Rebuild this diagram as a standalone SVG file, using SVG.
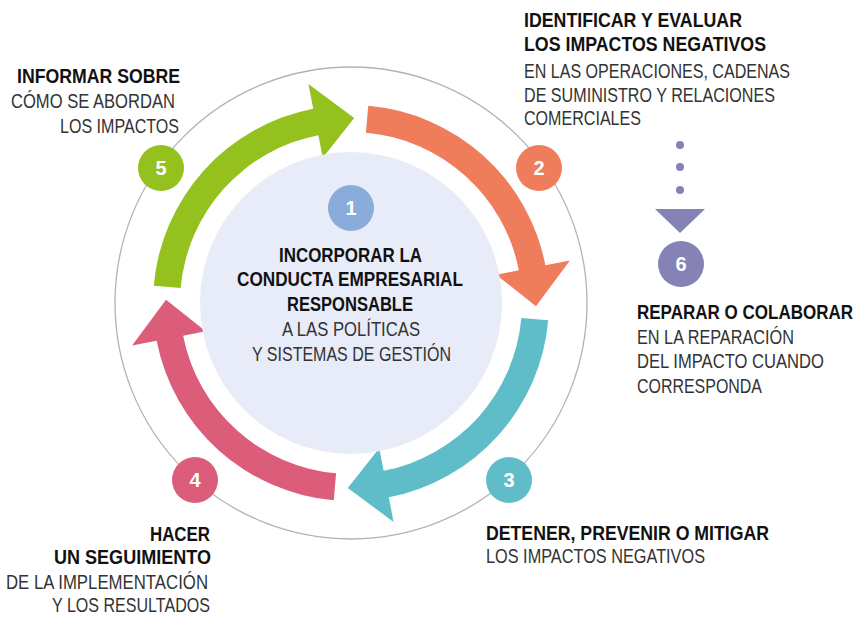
<svg xmlns="http://www.w3.org/2000/svg" width="859" height="617" viewBox="0 0 859 617">
  <style>
    .b { font-family: "Liberation Sans", Arial, sans-serif; font-weight: 700; font-size: 20px; fill: #111; }
    .r { font-family: "Liberation Sans", Arial, sans-serif; font-weight: 400; font-size: 20px; fill: #333; }
    .num { font-family: "Liberation Sans", Arial, sans-serif; font-weight: 700; font-size: 20px; fill: #fff; text-anchor: middle; }
    .end { text-anchor: end; }
  </style>
  <defs>
    <path id="arc-arrow" d="M153.75,285.74 A198,198 0 0 1 313.22,108.64 L308.45,84.10 L354.23,118.03 L322.76,157.72 L318.37,135.14 A171,171 0 0 0 180.65,288.10 Z"/>
  </defs>
  <rect width="859" height="617" fill="#ffffff"/>
  <g id="ring">
    <circle cx="351" cy="303" r="236" fill="none" stroke="#b3b3b3" stroke-width="1.3"/>
  </g>
  <g id="connectors">
    <use href="#arc-arrow" fill="#95c11f"/>
    <use href="#arc-arrow" fill="#ef7d5b" transform="rotate(90 351 303)"/>
    <use href="#arc-arrow" fill="#5fbdca" transform="rotate(180 351 303)"/>
    <use href="#arc-arrow" fill="#db5d7a" transform="rotate(270 351 303)"/>
    <g id="connector-2-6" fill="#8583b5">
      <circle cx="680" cy="145" r="4"/>
      <circle cx="680" cy="167" r="4"/>
      <circle cx="680" cy="190" r="4"/>
      <polygon points="655,209 705,209 680,233"/>
    </g>
  </g>
  <g id="node-1">
    <circle cx="351" cy="303" r="151" fill="#e8ecf8"/>
    <circle cx="351" cy="208" r="23" fill="#8aacdb"/>
    <text class="num" x="351" y="215">1</text>
    <text class="b" x="279" y="262" textLength="143" lengthAdjust="spacingAndGlyphs">INCORPORAR LA</text>
    <text class="b" x="237" y="286" textLength="226" lengthAdjust="spacingAndGlyphs">CONDUCTA EMPRESARIAL</text>
    <text class="b" x="287" y="311" textLength="126" lengthAdjust="spacingAndGlyphs">RESPONSABLE</text>
    <text class="r" x="282" y="336" textLength="138" lengthAdjust="spacingAndGlyphs">A LAS POLÍTICAS</text>
    <text class="r" x="252" y="361" textLength="199" lengthAdjust="spacingAndGlyphs">Y SISTEMAS DE GESTIÓN</text>
  </g>
  <g id="node-2">
    <circle cx="539" cy="168" r="23" fill="#ef7d5b"/>
    <text class="num" x="539" y="175">2</text>
    <text class="b" x="524" y="27" textLength="218" lengthAdjust="spacingAndGlyphs">IDENTIFICAR Y EVALUAR</text>
    <text class="b" x="524" y="51" textLength="242" lengthAdjust="spacingAndGlyphs">LOS IMPACTOS NEGATIVOS</text>
    <text class="r" x="524" y="78" textLength="266" lengthAdjust="spacingAndGlyphs">EN LAS OPERACIONES, CADENAS</text>
    <text class="r" x="524" y="102" textLength="251" lengthAdjust="spacingAndGlyphs">DE SUMINISTRO Y RELACIONES</text>
    <text class="r" x="524" y="125" textLength="117" lengthAdjust="spacingAndGlyphs">COMERCIALES</text>
  </g>
  <g id="node-3">
    <circle cx="509" cy="480" r="23" fill="#5fbdca"/>
    <text class="num" x="509" y="487">3</text>
    <text class="b" x="486" y="540" textLength="283" lengthAdjust="spacingAndGlyphs">DETENER, PREVENIR O MITIGAR</text>
    <text class="r" x="486" y="563" textLength="219" lengthAdjust="spacingAndGlyphs">LOS IMPACTOS NEGATIVOS</text>
  </g>
  <g id="node-4">
    <circle cx="195" cy="480" r="23" fill="#db5d7a"/>
    <text class="num" x="195" y="487">4</text>
    <text class="b" x="150" y="541" textLength="60" lengthAdjust="spacingAndGlyphs">HACER</text>
    <text class="b" x="54" y="564" textLength="157" lengthAdjust="spacingAndGlyphs">UN SEGUIMIENTO</text>
    <text class="r" x="6" y="589" textLength="202" lengthAdjust="spacingAndGlyphs">DE LA IMPLEMENTACIÓN</text>
    <text class="r" x="52" y="612" textLength="158" lengthAdjust="spacingAndGlyphs">Y LOS RESULTADOS</text>
  </g>
  <g id="node-5">
    <circle cx="161" cy="168" r="23" fill="#95c11f"/>
    <text class="num" x="161" y="175">5</text>
    <text class="b" x="17" y="83" textLength="163" lengthAdjust="spacingAndGlyphs">INFORMAR SOBRE</text>
    <text class="r" x="11" y="108" textLength="164" lengthAdjust="spacingAndGlyphs">CÓMO SE ABORDAN</text>
    <text class="r" x="60" y="133" textLength="119" lengthAdjust="spacingAndGlyphs">LOS IMPACTOS</text>
  </g>
  <g id="node-6">
    <circle cx="681" cy="264" r="23" fill="#8583b5"/>
    <text class="num" x="681" y="271">6</text>
    <text class="b end" x="853" y="319" textLength="216" lengthAdjust="spacingAndGlyphs">REPARAR O COLABORAR</text>
    <text class="r" x="637" y="344" textLength="157" lengthAdjust="spacingAndGlyphs">EN LA REPARACIÓN</text>
    <text class="r end" x="824" y="368" textLength="187" lengthAdjust="spacingAndGlyphs">DEL IMPACTO CUANDO</text>
    <text class="r" x="637" y="393" textLength="125" lengthAdjust="spacingAndGlyphs">CORRESPONDA</text>
  </g>
</svg>
